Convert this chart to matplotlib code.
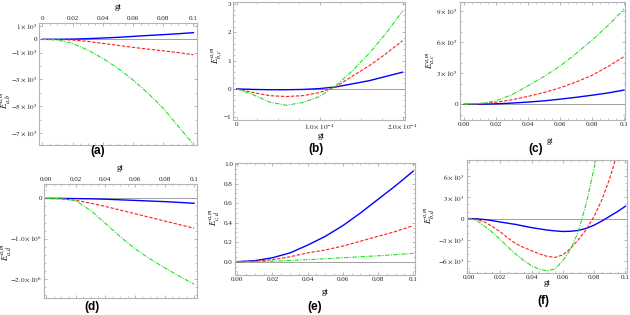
import matplotlib
matplotlib.use("Agg")
import matplotlib.pyplot as plt
from matplotlib.ticker import FixedLocator, AutoMinorLocator

plt.rcParams['font.family'] = ['Liberation Serif', 'DejaVu Serif']
plt.rcParams['mathtext.fontset'] = 'stix'

# ---------------- data ----------------
gt = [0.00, 0.01, 0.02, 0.03, 0.04, 0.05, 0.06, 0.07, 0.08, 0.09, 0.10]

a_blue = [0, 0.005e5, 0.02e5, 0.05e5, 0.1e5, 0.15e5, 0.22e5, 0.29e5, 0.35e5, 0.42e5, 0.5e5]
a_red = [0, -0.01e5, -0.05e5, -0.15e5, -0.3e5, -0.45e5, -0.6e5, -0.73e5, -0.86e5, -0.99e5, -1.15e5]
a_green = [0, -0.05e5, -0.3e5, -0.8e5, -1.42e5, -2.16e5, -3.04e5, -4.03e5, -5.15e5, -6.5e5, -7.85e5]

b_gt = [0, 0.2e-4, 0.4e-4, 0.6e-4, 0.8e-4, 1.0e-4, 1.2e-4, 1.4e-4, 1.6e-4, 1.8e-4, 2.0e-4]
b_blue = [0, -0.02, -0.03, -0.03, -0.02, 0.01, 0.07, 0.18, 0.29, 0.44, 0.59]
b_red = [0, -0.13, -0.24, -0.27, -0.24, -0.13, 0.08, 0.46, 0.82, 1.24, 1.7]
b_green = [0, -0.21, -0.47, -0.58, -0.48, -0.27, 0.12, 0.65, 1.26, 1.96, 2.75]

c_blue = [0, 0.01e5, 0.05e5, 0.12e5, 0.22e5, 0.34e5, 0.5e5, 0.68e5, 0.88e5, 1.1e5, 1.38e5]
c_red = [0, 0.04e5, 0.2e5, 0.45e5, 0.77e5, 1.15e5, 1.6e5, 2.15e5, 2.8e5, 3.65e5, 4.6e5]
c_green = [0, 0.08e5, 0.35e5, 0.95e5, 1.8e5, 2.7e5, 3.7e5, 4.9e5, 6.2e5, 7.6e5, 9.2e5]

d_blue = [0, 0, -0.005e6, -0.01e6, -0.02e6, -0.035e6, -0.05e6, -0.065e6, -0.08e6, -0.1e6, -0.12e6]
d_red = [0, -0.01e6, -0.05e6, -0.12e6, -0.2e6, -0.29e6, -0.38e6, -0.47e6, -0.56e6, -0.65e6, -0.74e6]
d_green = [0, -0.005e6, -0.06e6, -0.3e6, -0.62e6, -0.95e6, -1.25e6, -1.5e6, -1.72e6, -1.93e6, -2.13e6]

e_blue = [0, 0.01, 0.04, 0.09, 0.17, 0.26, 0.37, 0.5, 0.64, 0.78, 0.93]
e_red = [0, 0.005, 0.02, 0.05, 0.09, 0.12, 0.16, 0.21, 0.26, 0.31, 0.37]
e_green = [0, 0.001, 0.005, 0.012, 0.02, 0.03, 0.04, 0.05, 0.06, 0.072, 0.085]

f_gt = [0.000, 0.005, 0.010, 0.015, 0.020, 0.025, 0.030, 0.035, 0.040, 0.045, 0.050,
        0.055, 0.060, 0.065, 0.070, 0.075, 0.080, 0.085, 0.090, 0.095, 0.100]
f_blue = [0, -0.05e3, -0.15e3, -0.3e3, -0.5e3, -0.68e3, -0.85e3, -1.08e3, -1.3e3, -1.48e3, -1.65e3,
          -1.77e3, -1.85e3, -1.82e3, -1.7e3, -1.4e3, -0.95e3, -0.35e3, 0.33e3, 1.0e3, 1.75e3]
f_red = [0, -0.12e3, -0.5e3, -1.15e3, -1.9e3, -2.8e3, -3.6e3, -4.15e3, -4.6e3, -5.05e3, -5.4e3,
         -5.55e3, -5.2e3, -4.25e3, -3.0e3, -1.55e3, 0.3e3, 2.7e3, 5.75e3, 9.5e3, 13.5e3]
f_green = [0, -0.3e3, -1.1e3, -2.0e3, -3.0e3, -4.1e3, -5.1e3, -6.0e3, -6.75e3, -7.25e3, -7.45e3,
           -7.2e3, -6.0e3, -4.4e3, -1.8e3, 2.2e3, 7.2e3, 12.0e3]

x_ticks_01 = [0.0, 0.02, 0.04, 0.06, 0.08, 0.1]
x_labels_a = ['0', '0.02', '0.04', '0.06', '0.08', '0.1']
x_labels_std = ['0.00', '0.02', '0.04', '0.06', '0.08', '0.1']

a_yticks = [1e5, 0, -1e5, -3e5, -5e5, -7e5]
a_ylabels = [r'$1\times10^5$', '0', r'$-1\times10^5$', r'$-3\times10^5$', r'$-5\times10^5$', r'$-7\times10^5$']
b_xticks = [0, 1.0e-4, 2.0e-4]
b_xlabels = ['0', r'$1.0\times10^{-4}$', r'$2.0\times10^{-4}$']
b_yticks = [-1, 0, 1, 2, 3]
b_ylabels = ['\u22121', '0', '1', '2', '3']
c_yticks = [0, 3e5, 6e5, 9e5]
c_ylabels = ['0', r'$3\times10^5$', r'$6\times10^5$', r'$9\times10^5$']
d_yticks = [0, -1e6, -2e6]
d_ylabels = ['0', r'$-1.0\times10^6$', r'$-2.0\times10^6$']
e_yticks = [0.0, 0.2, 0.4, 0.6, 0.8, 1.0]
e_ylabels = ['0.0', '0.2', '0.4', '0.6', '0.8', '1.0']
f_yticks = [6e3, 3e3, 0, -3e3, -6e3]
f_ylabels = [r'$6\times10^3$', r'$3\times10^3$', '0', r'$-3\times10^3$', r'$-6\times10^3$']

# ---------------- styling ----------------
W, H = 630, 315
fig = plt.figure(figsize=(6.3, 3.15), dpi=100)

BLUE = '#0000ff'
RED = '#ff1a1a'
GREEN = '#22e022'
FRAME = '#b4b4b4'
TICKFS = 5.1


def add_ax(left, top, right, bottom):
    return fig.add_axes([left / W, 1 - bottom / H, (right - left) / W, (bottom - top) / H])


def style(ax, top_x=False):
    for s in ax.spines.values():
        s.set_color(FRAME)
        s.set_linewidth(0.8)
    ax.axhline(0, color='#a0a0a0', lw=0.7, zorder=1)
    ax.tick_params(which='both', direction='in', color='#999999', labelsize=TICKFS,
                   pad=1.5, labelcolor='#222222')
    ax.tick_params(which='major', length=2.5, width=0.5)
    ax.tick_params(which='minor', length=1.3, width=0.4)
    ax.xaxis.set_minor_locator(AutoMinorLocator(4))
    if top_x:
        ax.xaxis.tick_top()
        ax.tick_params(axis='x', which='both', top=True, bottom=True, labeltop=True, labelbottom=False)
    else:
        ax.tick_params(axis='x', which='both', top=True, bottom=True)
    ax.tick_params(axis='y', which='both', left=True, right=True)


def draw(ax, x, blue, red, green):
    ax.plot(x[:len(blue)], blue, color=BLUE, lw=1.0, zorder=3)
    ax.plot(x[:len(red)], red, color=RED, lw=0.8, ls=(0, (3, 1.5)), zorder=3)
    ax.plot(x[:len(green)], green, color=GREEN, lw=0.8, ls=(0, (4, 1.2, 1, 1.2)), zorder=3)


def ylab(x, y, sub):
    fig.text(x / W, 1 - y / H, r'$E_{%s}^{a,m}$' % sub, rotation=90, ha='center', va='center',
             fontsize=6.2)


def panel(x, y, s):
    fig.text(x / W, 1 - y / H, s, ha='center', va='center', fontsize=8.5, fontweight='bold',
             family='Liberation Sans')


def gt_label(x, y, fs=6.5):
    fig.text(x / W, 1 - y / H, 'gt', ha='center', va='center', fontsize=fs)


# (a)
ax = add_ax(39.3, 23.3, 196.7, 145)
style(ax, top_x=True)
draw(ax, gt, a_blue, a_red, a_green)
ax.set_xlim(-0.002, 0.1022)
ax.set_ylim(-7.9e5, 1.2e5)
ax.xaxis.set_major_locator(FixedLocator(x_ticks_01))
ax.set_xticklabels(x_labels_a)
ax.set_yticks(a_yticks)
ax.set_yticklabels(a_ylabels)
ax.yaxis.set_minor_locator(FixedLocator([-2e5, -4e5, -6e5]))
ylab(6, 100, 'a,b')
gt_label(118, 7)
panel(98, 151, '(a)')

# (b)
ax = add_ax(233.3, 2, 405, 120)
style(ax)
draw(ax, b_gt, b_blue, b_red, b_green)
ax.set_xlim(-0.04e-4, 2.03e-4)
ax.set_ylim(-1.1, 3.07)
ax.set_xticks(b_xticks)
ax.set_xticklabels(b_xlabels)
ax.set_yticks(b_yticks)
ax.set_yticklabels(b_ylabels)
ax.yaxis.set_minor_locator(AutoMinorLocator(5))
ylab(217, 55, 'b,c')
gt_label(321, 136)
panel(316, 149, '(b)')

# (c)
ax = add_ax(460, 1.7, 625, 120)
style(ax)
draw(ax, gt, c_blue, c_red, c_green)
ax.set_xlim(-0.0027, 0.1006)
ax.set_ylim(-1.51e5, 9.9e5)
ax.xaxis.set_major_locator(FixedLocator(x_ticks_01))
ax.set_xticklabels(x_labels_std)
ax.set_yticks(c_yticks)
ax.set_yticklabels(c_ylabels)
ax.yaxis.set_minor_locator(AutoMinorLocator(3))
ylab(431, 60, 'a,c')
gt_label(550, 141, 6)
panel(536, 149, '(c)')

# (d)
ax = add_ax(44, 184.3, 196.7, 298.3)
style(ax, top_x=True)
draw(ax, gt, d_blue, d_red, d_green)
ax.set_xlim(-0.0016, 0.1018)
ax.set_ylim(-2.48e6, 0.35e6)
ax.xaxis.set_major_locator(FixedLocator(x_ticks_01))
ax.set_xticklabels(x_labels_std)
ax.set_yticks(d_yticks)
ax.set_yticklabels(d_ylabels)
ax.yaxis.set_minor_locator(AutoMinorLocator(5))
ylab(7, 252, 'a,d')
gt_label(120, 168)
panel(92, 307, '(d)')

# (e)
ax = add_ax(235, 163.3, 415, 275)
style(ax)
draw(ax, gt, e_blue, e_red, e_green)
ax.set_xlim(-0.0013, 0.101)
ax.set_ylim(-0.137, 1.01)
ax.xaxis.set_major_locator(FixedLocator(x_ticks_01))
ax.set_xticklabels(x_labels_std)
ax.set_yticks(e_yticks)
ax.set_yticklabels(e_ylabels)
ax.yaxis.set_minor_locator(AutoMinorLocator(4))
ylab(215, 217, 'c,d')
gt_label(325, 292)
panel(315, 307, '(e)')

# (f)
ax = add_ax(466.5, 160, 627, 273.3)
style(ax)
draw(ax, f_gt, f_blue, f_red, f_green)
ax.set_xlim(-0.0016, 0.101)
ax.set_ylim(-7.82e3, 8.35e3)
ax.xaxis.set_major_locator(FixedLocator(x_ticks_01))
ax.set_xticklabels(x_labels_std)
ax.set_yticks(f_yticks)
ax.set_yticklabels(f_ylabels)
ax.yaxis.set_minor_locator(AutoMinorLocator(3))
ylab(430, 215, 'b,d')
gt_label(547, 283)
panel(543, 301, '(f)')

fig.savefig('out.png', dpi=100)
